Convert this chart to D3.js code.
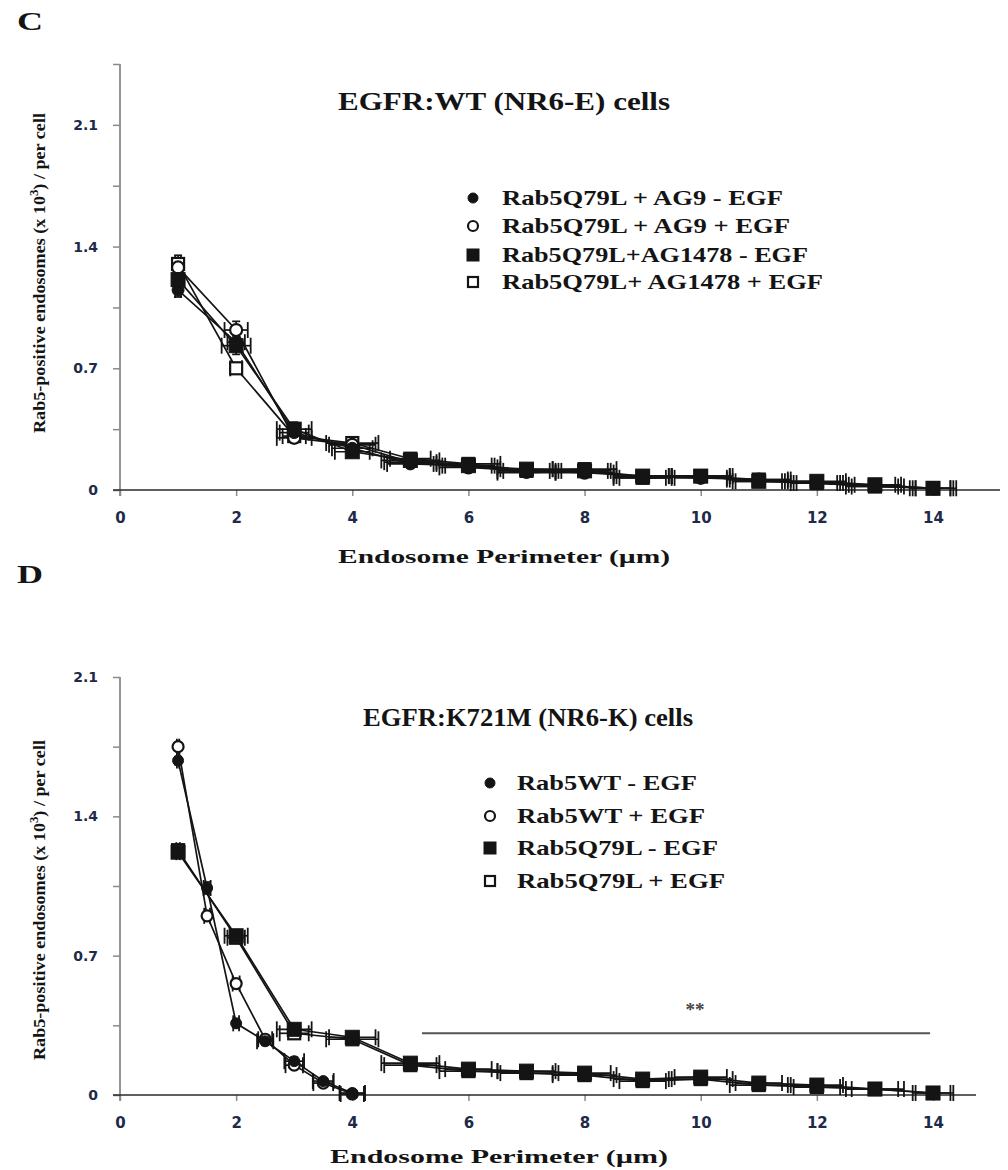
<!DOCTYPE html>
<html><head><meta charset="utf-8">
<script src="https://cdn.jsdelivr.net/npm/d3@7"></script>
<style>body{margin:0;background:#fff} svg{display:block}</style>
</head><body>
<svg id="chart" width="1008" height="1170"></svg>
<script>
// ---------- DATA ----------
const xTickValues = [0, 2, 4, 6, 8, 10, 12, 14];
const yTickValuesC = [0, 0.35, 0.7, 1.05, 1.4, 1.75, 2.1, 2.45];
const yTickValuesD = [0, 0.35, 0.7, 1.05, 1.4, 1.75, 2.1];
const yTickLabels = [0, 0.7, 1.4, 2.1];

const panelLetters = ["C", "D"];
const titleC = "EGFR:WT (NR6-E) cells";
const titleD = "EGFR:K721M (NR6-K) cells";
const xAxisTitle = "Endosome Perimeter (\u00b5m)";
const yAxisTitleMain = "Rab5-positive endosomes (x 10";
const yAxisTitleSup = "3";
const yAxisTitleEnd = ") / per cell";

const namesC = ["Rab5Q79L + AG9 - EGF", "Rab5Q79L + AG9 + EGF", "Rab5Q79L+AG1478 - EGF", "Rab5Q79L+ AG1478 + EGF"];
const namesD = ["Rab5WT - EGF", "Rab5WT + EGF", "Rab5Q79L - EGF", "Rab5Q79L + EGF"];
const markerTypes = ["circleFilled", "circleOpen", "squareFilled", "squareOpen"];

// Panel C (perimeter 1..14 um)
const xC = [1, 2, 3, 4, 5, 6, 7, 8, 9, 10, 11, 12, 13, 14];
const yC1 = [1.15, 0.85, 0.33, 0.24, 0.15, 0.14, 0.10, 0.11, 0.07, 0.08, 0.05, 0.04, 0.02, 0.01];
const yC2 = [1.28, 0.92, 0.30, 0.26, 0.16, 0.13, 0.11, 0.10, 0.08, 0.07, 0.06, 0.04, 0.03, 0.01];
const yC3 = [1.21, 0.83, 0.35, 0.22, 0.17, 0.14, 0.12, 0.11, 0.08, 0.08, 0.05, 0.05, 0.03, 0.01];
const yC4 = [1.30, 0.70, 0.31, 0.27, 0.18, 0.15, 0.11, 0.12, 0.07, 0.08, 0.06, 0.04, 0.02, 0.01];
const xerrC1 = [0.05, 0.15, 0.25, 0.35, 0.40, 0.45, 0.50, 0.45, 0.50, 0.50, 0.40, 0.45, 0.40, 0.35];
const xerrC2 = [0.05, 0.20, 0.30, 0.40, 0.45, 0.50, 0.40, 0.50, 0.45, 0.45, 0.50, 0.40, 0.45, 0.30];
const xerrC3 = [0.05, 0.25, 0.30, 0.30, 0.50, 0.40, 0.45, 0.40, 0.50, 0.55, 0.45, 0.50, 0.35, 0.40];
const xerrC4 = [0.05, 0.10, 0.20, 0.45, 0.35, 0.55, 0.50, 0.55, 0.40, 0.50, 0.55, 0.35, 0.50, 0.30];
const yerrC1 = [0.04, 0.04, 0.03, 0.03, 0.02, 0.02, 0.02, 0.02, 0.02, 0.02, 0.01, 0.01, 0.01, 0.01];
const yerrC2 = [0.05, 0.05, 0.03, 0.02, 0.02, 0.02, 0.02, 0.02, 0.01, 0.01, 0.01, 0.01, 0.01, 0.01];
const yerrC3 = [0.04, 0.05, 0.04, 0.03, 0.02, 0.02, 0.02, 0.02, 0.02, 0.02, 0.02, 0.01, 0.01, 0.01];
const yerrC4 = [0.05, 0.03, 0.03, 0.03, 0.02, 0.02, 0.02, 0.02, 0.01, 0.01, 0.01, 0.01, 0.01, 0.01];

// Panel D
const xDwt = [1, 1.5, 2, 2.5, 3, 3.5, 4];
const yD1 = [1.68, 1.04, 0.36, 0.27, 0.17, 0.07, 0.01];
const yD2 = [1.75, 0.90, 0.56, 0.28, 0.15, 0.06, 0.005];
const xerrD1 = [0.02, 0.06, 0.05, 0.14, 0.17, 0.18, 0.22];
const xerrD2 = [0.02, 0.05, 0.06, 0.12, 0.15, 0.17, 0.20];
const yerrD1 = [0.02, 0.03, 0.02, 0.02, 0.02, 0.01, 0.01];
const yerrD2 = [0.02, 0.02, 0.02, 0.02, 0.02, 0.01, 0.01];
const xDq = [1, 2, 3, 4, 5, 6, 7, 8, 9, 10, 11, 12, 13, 14];
const yD3 = [1.22, 0.80, 0.33, 0.29, 0.16, 0.13, 0.12, 0.11, 0.08, 0.09, 0.06, 0.05, 0.03, 0.01];
const yD4 = [1.23, 0.79, 0.31, 0.28, 0.15, 0.12, 0.11, 0.10, 0.07, 0.08, 0.05, 0.04, 0.03, 0.01];
const xerrD3 = [0.03, 0.20, 0.30, 0.40, 0.50, 0.40, 0.50, 0.45, 0.50, 0.45, 0.40, 0.45, 0.40, 0.35];
const xerrD4 = [0.03, 0.15, 0.25, 0.45, 0.45, 0.50, 0.45, 0.55, 0.40, 0.55, 0.50, 0.40, 0.50, 0.30];
const yerrD3 = [0.02, 0.02, 0.02, 0.02, 0.02, 0.02, 0.02, 0.02, 0.01, 0.02, 0.01, 0.01, 0.01, 0.01];
const yerrD4 = [0.02, 0.02, 0.02, 0.02, 0.01, 0.01, 0.02, 0.01, 0.01, 0.02, 0.01, 0.01, 0.01, 0.01];

// significance annotation in panel D (data units)
const sigLineX = [5.2, 13.95];
const sigLineY = 0.31;
const sigStar = {label: "**", x: 9.9, y: 0.44};

// ---------- DRAWING ----------
const svg = d3.select("#chart");
const INK = "#141414";
const NAVY = "#1d2a48";
const SERIF = "'Liberation Serif','Times New Roman',serif";
const SANS = "'DejaVu Sans',Verdana,sans-serif";
const drawOrder = [3, 1, 0, 2]; // open square, open circle, filled circle, filled square on top

function mkSeries(xs, ys, xe, ye, name, type) {
  return {name, type, pts: xs.map((x, i) => ({x, y: ys[i], xe: xe[i], ye: ye[i]}))};
}

const panels = [
  {
    letter: panelLetters[0], letterY: 30,
    title: titleC, titleX: 338, titleY: 110, titleLen: 332,
    yMax: 2.45, y0: 490, yTop: 64, yTicks: yTickValuesC,
    xEnd: 1000, xTitleX: 338, xTitleLen: 332, xTitleY: 563,
    yLabelCenter: 273,
    legendMarkerX: 473, legendTextX: 502, legendRows: [198, 226, 255, 282],
    legendLens: [281, 288, 306, 321],
    names: namesC, circR: 6, sq: 14,
    series: [
      mkSeries(xC, yC1, xerrC1, yerrC1, namesC[0], markerTypes[0]),
      mkSeries(xC, yC2, xerrC2, yerrC2, namesC[1], markerTypes[1]),
      mkSeries(xC, yC3, xerrC3, yerrC3, namesC[2], markerTypes[2]),
      mkSeries(xC, yC4, xerrC4, yerrC4, namesC[3], markerTypes[3])
    ]
  },
  {
    letter: panelLetters[1], letterY: 583,
    title: titleD, titleX: 363, titleY: 726, titleLen: 330,
    yMax: 2.1, y0: 1095, yTop: 677, yTicks: yTickValuesD,
    xEnd: 976, xTitleX: 330, xTitleLen: 338, xTitleY: 1163,
    yLabelCenter: 900,
    legendMarkerX: 490, legendTextX: 517, legendRows: [783, 816, 848, 881],
    legendLens: [180, 188, 201, 208],
    names: namesD, circR: 5.5, sq: 14,
    series: [
      mkSeries(xDwt, yD1, xerrD1, yerrD1, namesD[0], markerTypes[0]),
      mkSeries(xDwt, yD2, xerrD2, yerrD2, namesD[1], markerTypes[1]),
      mkSeries(xDq, yD3, xerrD3, yerrD3, namesD[2], markerTypes[2]),
      mkSeries(xDq, yD4, xerrD4, yerrD4, namesD[3], markerTypes[3])
    ],
    sig: true
  }
];

function drawMarker(g, type, cx, cy, r, s) {
  if (type.startsWith("circle")) {
    g.append("circle").attr("cx", cx).attr("cy", cy).attr("r", r)
      .attr("fill", type === "circleFilled" ? INK : "#fff")
      .attr("stroke", INK).attr("stroke-width", type === "circleFilled" ? 1 : 2.2);
  } else {
    const open = type === "squareOpen";
    const ss = open ? s - 2 : s;
    g.append("rect").attr("x", cx - ss / 2).attr("y", cy - ss / 2)
      .attr("width", ss).attr("height", ss)
      .attr("fill", open ? "#fff" : INK)
      .attr("stroke", INK).attr("stroke-width", open ? 2.2 : 1);
  }
}

panels.forEach(p => {
  const x = d3.scaleLinear().domain([0, 14]).range([120, 933]);
  const y = d3.scaleLinear().domain([0, p.yMax]).range([p.y0, p.yTop]);
  const g = svg.append("g");

  // panel letter
  g.append("text").attr("x", 17).attr("y", p.letterY).text(p.letter)
    .attr("font-family", SERIF).attr("font-weight", "bold").attr("font-size", 26).attr("fill", INK)
    .attr("textLength", 26).attr("lengthAdjust", "spacingAndGlyphs");

  // y axis
  const yAxis = d3.axisLeft(y).tickValues(p.yTicks).tickSize(7).tickPadding(15)
    .tickFormat(d => yTickLabels.some(v => Math.abs(v - d) < 1e-9) ? d3.format("")(d) : "");
  const ya = g.append("g").attr("transform", "translate(120,0)").call(yAxis);
  ya.select(".domain").remove();
  ya.selectAll(".tick line").attr("stroke", "#8a8a8a").attr("stroke-width", 1.5);
  ya.selectAll(".tick text").attr("font-family", SANS).attr("font-weight", "bold")
    .attr("font-size", 14).attr("fill", NAVY);
  g.append("line").attr("x1", 120).attr("x2", 120).attr("y1", y(p.yMax)).attr("y2", p.y0 + 6)
    .attr("stroke", "#8a8a8a").attr("stroke-width", 1.8);

  // x axis
  const xAxis = d3.axisBottom(x).tickValues(xTickValues).tickSize(6).tickPadding(16);
  const xa = g.append("g").attr("transform", `translate(0,${p.y0})`).call(xAxis);
  xa.select(".domain").remove();
  xa.selectAll(".tick line").attr("stroke", "#8a8a8a").attr("stroke-width", 1.5);
  xa.selectAll(".tick text").attr("font-family", SANS).attr("font-weight", "bold")
    .attr("font-size", 15).attr("fill", NAVY);
  g.append("line").attr("x1", 113).attr("x2", p.xEnd).attr("y1", p.y0).attr("y2", p.y0)
    .attr("stroke", "#2a2a2a").attr("stroke-width", 1.6);

  // axis titles
  g.append("text").attr("x", p.xTitleX).attr("y", p.xTitleY).text(xAxisTitle)
    .attr("font-family", SERIF).attr("font-weight", "bold").attr("font-size", 18)
    .attr("fill", INK).attr("textLength", p.xTitleLen).attr("lengthAdjust", "spacingAndGlyphs");

  const yl = g.append("text").attr("transform", `translate(45,${p.yLabelCenter}) rotate(-90)`)
    .attr("text-anchor", "middle").attr("font-family", SERIF).attr("font-weight", "bold")
    .attr("font-size", 17).attr("fill", INK)
    .attr("textLength", 320).attr("lengthAdjust", "spacingAndGlyphs");
  yl.append("tspan").text(yAxisTitleMain);
  yl.append("tspan").text(yAxisTitleSup).attr("dy", -7).attr("font-size", 12);
  yl.append("tspan").text(yAxisTitleEnd).attr("dy", 7);

  // title
  g.append("text").attr("x", p.titleX).attr("y", p.titleY).text(p.title)
    .attr("font-family", SERIF).attr("font-weight", "bold").attr("font-size", 25)
    .attr("fill", INK).attr("textLength", p.titleLen).attr("lengthAdjust", "spacingAndGlyphs");

  // legend
  p.series.forEach((s, i) => {
    const cy = p.legendRows[i];
    drawMarker(g, s.type, p.legendMarkerX, cy, 5, 12);
    g.append("text").attr("x", p.legendTextX).attr("y", cy + 7).text(s.name)
      .attr("font-family", SERIF).attr("font-weight", "bold").attr("font-size", 22)
      .attr("fill", INK).attr("textLength", p.legendLens[i]).attr("lengthAdjust", "spacingAndGlyphs");
  });

  // significance
  if (p.sig) {
    g.append("line").attr("x1", x(sigLineX[0])).attr("x2", x(sigLineX[1]))
      .attr("y1", y(sigLineY)).attr("y2", y(sigLineY))
      .attr("stroke", "#555").attr("stroke-width", 2);
    g.append("text").attr("x", x(sigStar.x)).attr("y", y(sigStar.y) + 9)
      .attr("text-anchor", "middle").text(sigStar.label)
      .attr("font-family", SERIF).attr("font-weight", "bold").attr("font-size", 19).attr("fill", "#444");
  }

  // lines
  const line = d3.line().x(d => x(d.x)).y(d => y(d.y));
  drawOrder.forEach(k => {
    const s = p.series[k];
    g.append("path").attr("d", line(s.pts)).attr("fill", "none")
      .attr("stroke", INK).attr("stroke-width", 1.7);
  });

  // error bars
  drawOrder.forEach(k => {
    p.series[k].pts.forEach(d => {
      const cx = x(d.x), cy = y(d.y);
      const xl = x(d.x - d.xe), xr = x(d.x + d.xe);
      g.append("line").attr("x1", xl).attr("x2", xr).attr("y1", cy).attr("y2", cy)
        .attr("stroke", INK).attr("stroke-width", 1.7);
      [xl, xr].forEach(xx => g.append("line").attr("x1", xx).attr("x2", xx)
        .attr("y1", cy - 8).attr("y2", cy + 8).attr("stroke", INK).attr("stroke-width", 1.8));
      const yt = y(d.y + d.ye), yb = y(Math.max(0, d.y - d.ye));
      g.append("line").attr("x1", cx).attr("x2", cx).attr("y1", yt).attr("y2", yb)
        .attr("stroke", INK).attr("stroke-width", 1.7);
      [yt, yb].forEach(yy => g.append("line").attr("x1", cx - 4).attr("x2", cx + 4)
        .attr("y1", yy).attr("y2", yy).attr("stroke", INK).attr("stroke-width", 1.7));
    });
  });

  // markers
  drawOrder.forEach(k => {
    const s = p.series[k];
    s.pts.forEach(d => drawMarker(g, s.type, x(d.x), y(d.y), p.circR, p.sq));
  });
});
</script>
</body></html>
